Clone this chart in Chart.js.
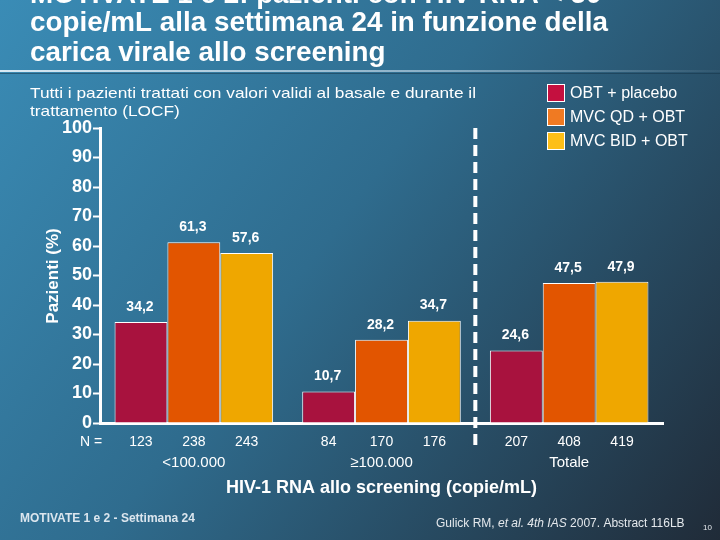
<!DOCTYPE html>
<html>
<head>
<meta charset="utf-8">
<script src="https://cdn.jsdelivr.net/npm/chart.js@4.4.1/dist/chart.umd.min.js"></script>
<style>
  html, body { margin: 0; padding: 0; background: #2c6283; }
  #wrap { width: 720px; height: 540px; }
</style>
</head>
<body>
<div id="wrap"><canvas id="dataChart" width="720" height="540"></canvas></div>
<script>
// data
const groups = ['<100.000', '\u2265100.000', 'Totale'];
const seriesNames = ['OBT + placebo', 'MVC QD + OBT', 'MVC BID + OBT'];
const placebo = [34.2, 10.7, 24.6];
const mvcQd = [61.3, 28.2, 47.5];
const mvcBid = [57.6, 34.7, 47.9];
const nPlacebo = [123, 84, 207];
const nQd = [238, 170, 408];
const nBid = [243, 176, 419];

const barColors = ['#a8123e', '#e25500', '#efa700'];
const legendColors = ['#c4103f', '#f07a22', '#fdbf18'];
const FONT = '"Liberation Sans", Arial, sans-serif';

const titleLines = [
    'MOTIVATE 1 e 2: pazienti con HIV RNA < 50',
    'copie/mL alla settimana 24 in funzione della',
    'carica virale allo screening'
];
const titleBaselines = [3, 31, 61];
const subtitleLines = [
    'Tutti i pazienti trattati con valori validi al basale e durante il',
    'trattamento (LOCF)'
];

function fmt(v) {
    return v.toFixed(1).replace('.', ',');
}

// slide fonts are a bit wider than Arial, so stretch horizontally
function stretchText(c, text, x, y, sx) {
    c.save();
    c.translate(x, y);
    c.scale(sx, 1);
    c.fillText(text, 0, 0);
    c.restore();
}

const slidePlugin = {
    id: 'slide',
    beforeDraw(chart) {
        const c = chart.ctx;
        c.save();
        const g = c.createLinearGradient(0, 0, 720, 540);
        g.addColorStop(0, '#3a8cb6');
        g.addColorStop(0.45, '#2f6c8e');
        g.addColorStop(1, '#202b38');
        c.fillStyle = g;
        c.fillRect(0, 0, 720, 540);

        // title (first line is cut off by the top edge)
        c.fillStyle = '#ffffff';
        c.font = 'bold 27px ' + FONT;
        c.textBaseline = 'alphabetic';
        c.textAlign = 'left';
        const tsx = 578 / c.measureText(titleLines[1]).width;
        titleLines.forEach((t, i) => stretchText(c, t, 30, titleBaselines[i], tsx));

        // separator
        const sg = c.createLinearGradient(0, 0, 720, 0);
        sg.addColorStop(0, 'rgba(225,238,246,0.95)');
        sg.addColorStop(0.6, 'rgba(200,220,235,0.6)');
        sg.addColorStop(1, 'rgba(200,220,235,0.05)');
        c.strokeStyle = sg;
        c.lineWidth = 2;
        c.beginPath();
        c.moveTo(0, 71);
        c.lineTo(720, 71);
        c.stroke();
        c.strokeStyle = 'rgba(20,50,70,0.5)';
        c.lineWidth = 1;
        c.beginPath();
        c.moveTo(0, 73.5);
        c.lineTo(720, 73.5);
        c.stroke();

        // subtitle
        c.font = '15px ' + FONT;
        const ssx = 446 / c.measureText(subtitleLines[0]).width;
        subtitleLines.forEach((t, i) => stretchText(c, t, 30, 98 + i * 18, ssx));

        // legend
        c.font = '16px ' + FONT;
        c.textBaseline = 'middle';
        seriesNames.forEach((name, i) => {
            const y = 93 + i * 24;
            c.fillStyle = '#ffffff';
            c.fillRect(547, y - 9, 18, 18);
            c.fillStyle = legendColors[i];
            c.fillRect(548, y - 8, 16, 16);
            c.fillStyle = '#ffffff';
            c.fillText(name, 570, y + 1);
        });

        // y axis title
        c.save();
        c.translate(53, 276);
        c.rotate(-Math.PI / 2);
        c.textAlign = 'center';
        c.font = 'bold 17px ' + FONT;
        c.fillText('Pazienti (%)', 0, 0);
        c.restore();
        c.restore();
    },
    afterDraw(chart) {
        const c = chart.ctx;
        const xs = chart.scales.x;
        const area = chart.chartArea;
        const nSeries = [nPlacebo, nQd, nBid];
        c.save();
        c.fillStyle = '#ffffff';
        c.textAlign = 'center';
        c.textBaseline = 'middle';

        // value labels and N counts
        chart.data.datasets.forEach((ds, i) => {
            const meta = chart.getDatasetMeta(i);
            meta.data.forEach((bar, j) => {
                c.font = 'bold 14px ' + FONT;
                c.fillText(fmt(ds.data[j]), bar.x - 1, bar.y - 15);
                c.font = '14px ' + FONT;
                c.fillText(String(nSeries[i][j]), bar.x, area.bottom + 19);
            });
        });
        c.font = '14px ' + FONT;
        c.fillText('N =', 91, area.bottom + 19);

        // group labels
        c.font = '15px ' + FONT;
        groups.forEach((g, j) => {
            c.fillText(g, xs.getPixelForValue(j), area.bottom + 40);
        });

        // dashed separator before "Totale"
        const dx = (xs.getPixelForValue(1) + xs.getPixelForValue(2)) / 2;
        c.strokeStyle = '#ffffff';
        c.lineWidth = 4;
        c.setLineDash([11, 6]);
        c.beginPath();
        c.moveTo(dx, area.top);
        c.lineTo(dx, area.bottom + 28);
        c.stroke();
        c.setLineDash([]);

        // x axis title
        c.font = 'bold 18px ' + FONT;
        c.fillText('HIV-1 RNA allo screening (copie/mL)', xs.getPixelForValue(1), 488);

        // footer
        c.textAlign = 'left';
        c.fillStyle = '#dce6ee';
        c.font = 'bold 12px ' + FONT;
        c.fillText('MOTIVATE 1 e 2 - Settimana 24', 20, 519);

        const parts = [
            ['Gulick RM, ', ''],
            ['et al.', 'italic '],
            [' ', ''],
            ['4th IAS', 'italic '],
            [' 2007. Abstract 116LB', '']
        ];
        let x = 436;
        c.fillStyle = '#e4e8ec';
        parts.forEach(([t, st]) => {
            c.font = st + '12px ' + FONT;
            c.fillText(t, x, 524);
            x += c.measureText(t).width;
        });
        c.font = '8px ' + FONT;
        c.fillText('10', 703, 528);
        c.restore();
    }
};

const ctx = document.getElementById('dataChart').getContext('2d');
const dataChart = new Chart(ctx, {
    type: 'bar',
    data: {
        labels: groups,
        datasets: [
            { label: seriesNames[0], data: placebo, backgroundColor: barColors[0] },
            { label: seriesNames[1], data: mvcQd, backgroundColor: barColors[1] },
            { label: seriesNames[2], data: mvcBid, backgroundColor: barColors[2] }
        ].map(d => Object.assign(d, {
            borderColor: '#ffffff',
            borderWidth: 1,
            categoryPercentage: 0.845,
            barPercentage: 1.0
        }))
    },
    options: {
        responsive: false,
        animation: false,
        layout: { padding: { top: 128, bottom: 117, left: 0, right: 57 } },
        plugins: {
            legend: { display: false },
            tooltip: { enabled: false }
        },
        scales: {
            x: {
                afterFit: s => { s.height = 0; },
                ticks: { display: false },
                grid: { display: false },
                border: { color: '#ffffff', width: 3 }
            },
            y: {
                min: 0,
                max: 100,
                afterFit: s => { s.width = 100; },
                ticks: {
                    stepSize: 10,
                    padding: 1,
                    color: '#ffffff',
                    font: { family: FONT, size: 18, weight: 'bold' }
                },
                grid: {
                    drawOnChartArea: false,
                    tickLength: 7,
                    tickWidth: 2,
                    tickColor: '#ffffff'
                },
                border: { color: '#ffffff', width: 3 }
            }
        }
    },
    plugins: [slidePlugin]
});
</script>
</body>
</html>
